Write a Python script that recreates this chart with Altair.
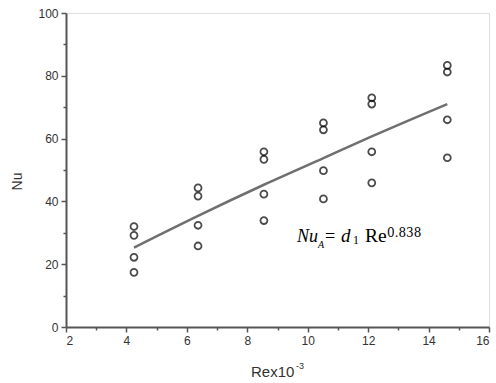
import altair as alt
import pandas as pd

# Reynolds number groups (x 10^-3) and measured Nusselt numbers at each
re_groups = [4.25, 6.37, 8.55, 10.52, 12.12, 14.62]
nu_set1 = [32.0, 44.3, 55.8, 65.0, 73.0, 83.3]
nu_set2 = [29.2, 41.7, 53.4, 62.8, 71.0, 81.2]
nu_set3 = [22.2, 32.4, 42.3, 49.8, 55.8, 66.0]
nu_set4 = [17.4, 25.8, 33.9, 40.8, 45.9, 53.9]

# correlation curve Nu_A = d1 Re^0.838 evaluated at each group
nu_fit = [25.3, 35.4, 45.3, 53.8, 60.7, 71.0]

x_major = [2, 4, 6, 8, 10, 12, 14, 16]
x_minor = [3, 5, 7, 9, 11, 13, 15]
y_major = [0, 20, 40, 60, 80, 100]
y_minor = [10, 30, 50, 70, 90]

points = pd.DataFrame({
    "re": re_groups * 4,
    "nu": nu_set1 + nu_set2 + nu_set3 + nu_set4,
})
fit = pd.DataFrame({"re": re_groups, "nu": nu_fit})

AXIS_GREY = "#555555"
LABEL_COL = "#333333"
SANS = "Liberation Sans"
SERIF = "Liberation Serif"

xscale = alt.Scale(domain=[2, 16], nice=False, zero=False)
yscale = alt.Scale(domain=[0, 100], nice=False)

major_x = alt.Axis(values=x_major, title=None, orient="bottom", format="d",
                   grid=False, tickSize=5, tickWidth=1.5, tickColor=AXIS_GREY,
                   domainColor=AXIS_GREY, domainWidth=2, labelFont=SANS,
                   labelFontSize=12, labelColor=LABEL_COL, labelPadding=3)
major_y = alt.Axis(values=y_major, title="Nu", orient="left", format="d",
                   grid=False, tickSize=5, tickWidth=1.5, tickColor=AXIS_GREY,
                   domainColor=AXIS_GREY, domainWidth=2, labelFont=SANS,
                   labelFontSize=12, labelColor=LABEL_COL, labelPadding=3,
                   titleFont=SANS, titleFontSize=14, titleFontWeight="normal",
                   titleColor=LABEL_COL, titleX=-49, titleY=168,
                   titleAngle=270, titleAlign="center", titleBaseline="middle")
minor_x = alt.Axis(values=x_minor, title=None, orient="bottom", labels=False,
                   domain=False, grid=False, tickSize=3, tickWidth=1.5,
                   tickColor=AXIS_GREY)
minor_y = alt.Axis(values=y_minor, title=None, orient="left", labels=False,
                   domain=False, grid=False, tickSize=3, tickWidth=1.5,
                   tickColor=AXIS_GREY)

circles = alt.Chart(points).mark_point(
    shape="circle", filled=False, color="black", size=48, strokeWidth=1.8
).encode(
    x=alt.X("re:Q", scale=xscale, axis=major_x),
    y=alt.Y("nu:Q", scale=yscale, axis=major_y),
)

minor_ticks = alt.Chart(points).mark_point(opacity=0).encode(
    x=alt.X("re:Q", scale=xscale, axis=minor_x),
    y=alt.Y("nu:Q", scale=yscale, axis=minor_y),
)

curve = alt.Chart(fit).mark_line(
    color="#6f6f6f", strokeWidth=2.5, interpolate="monotone"
).encode(
    x=alt.X("re:Q", scale=xscale, axis=None),
    y=alt.Y("nu:Q", scale=yscale, axis=None),
)


def label(text, px, py, size, font, style="normal", color="black"):
    return alt.Chart(pd.DataFrame({"k": [0]})).mark_text(
        text=text, align="left", baseline="alphabetic", font=font,
        fontSize=size, fontStyle=style, color=color,
    ).encode(x=alt.value(px), y=alt.value(py))


# equation annotation
equation = [
    label("Nu", 231, 229, 18, SERIF, "italic"),
    label("A", 252, 235, 10, SERIF, "italic"),
    label("=", 259, 229, 18, SERIF),
    label("d", 275, 229, 19, SERIF, "italic"),
    label("1", 287, 231, 12, SERIF),
    label("Re", 299, 229, 19.5, SERIF),
    label("0.838", 321, 224, 12, "DejaVu Serif"),
]

# x-axis title with superscript exponent
xtitle = [
    label("Rex10", 185, 364, 15, SANS, color=LABEL_COL),
    label("-3", 230, 356, 9, SANS, color=LABEL_COL),
]

chart = alt.layer(
    minor_ticks, curve, circles, *equation, *xtitle
).resolve_axis(x="independent", y="independent").properties(
    width=423, height=314,
    autosize=alt.AutoSizeParams(type="none"),
    padding={"left": 66, "top": 13, "right": 7, "bottom": 56},
).configure_view(stroke=AXIS_GREY, strokeWidth=2).configure(background="white")

chart.save("out.html", embed_options={"renderer": "svg", "actions": False})
